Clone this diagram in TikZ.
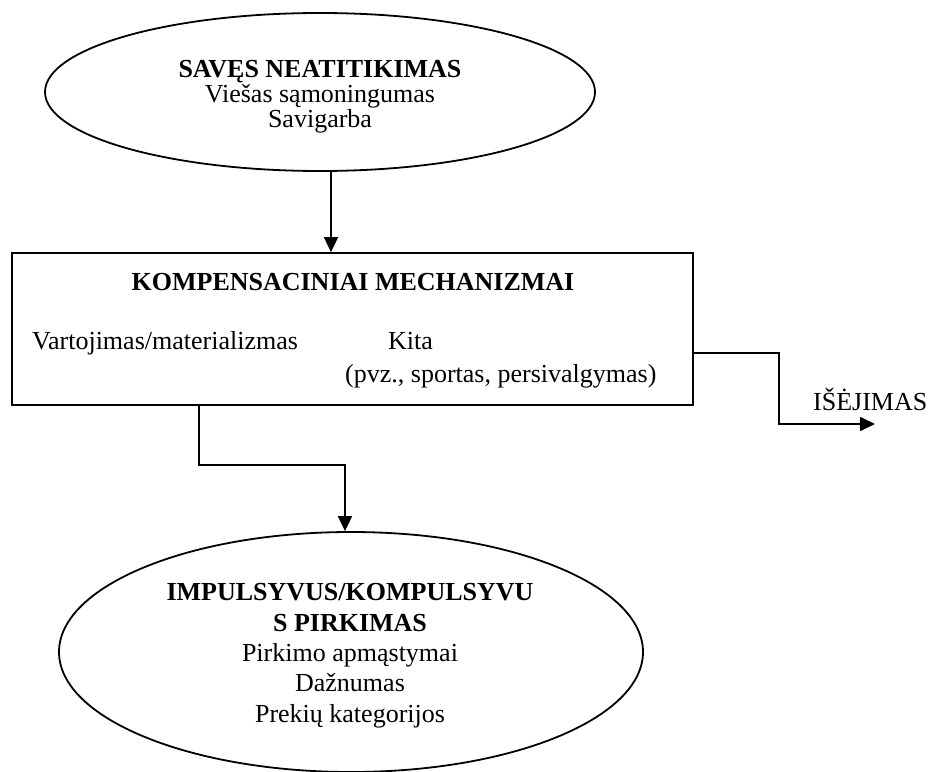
\documentclass[tikz,border=0pt]{standalone}
\usepackage{fontspec}
\setmainfont{Liberation Serif}
\usetikzlibrary{shapes.geometric,arrows.meta}

\tikzset{
  frame/.style={draw=black, line width=1.8pt},
  oval/.style={frame, ellipse, inner sep=0pt},
  txt/.style={inner sep=0pt, anchor=base, font=\fontsize{26}{30}\selectfont},
  txtl/.style={txt, anchor=base west},
  head/.style={txt, font=\fontsize{26}{30}\selectfont\bfseries},
  link/.style={draw=black, line width=1.8pt, -{Triangle[length=15pt,width=14pt]}},
  wire/.style={draw=black, line width=1.8pt}
}

\begin{document}
\begin{tikzpicture}[x=1pt, y=-1pt]
\useasboundingbox (0,0) rectangle (934,771);
\clip (0,0) rectangle (934,771);

% upper ellipse
\node[oval, minimum width=550pt, minimum height=158pt] (self) at (320,92) {};
\node[head] (selfT) at (320,77) {SAVĘS NEATITIKIMAS};
\node[txt]  (selfA) at (320,102) {Viešas sąmoningumas};
\node[txt]  (selfB) at (320,127) {Savigarba};

% middle box
\node[frame, minimum width=681pt, minimum height=152pt, inner sep=0pt] (comp) at (352.5,329) {};
\node[head] (compT) at (353,290) {KOMPENSACINIAI MECHANIZMAI};
\node[txtl] (compA) at (32,349) {Vartojimas/materializmas};
\node[txtl] (compB) at (388,349) {Kita};
\node[txtl] (compC) at (345,382) {(pvz., sportas, persivalgymas)};

% lower ellipse
\node[oval, minimum width=584pt, minimum height=240pt] (buy) at (351,652) {};
\node[head] (buyT1) at (350,600) {IMPULSYVUS/KOMPULSYVU};
\node[head] (buyT2) at (350,631) {S PIRKIMAS};
\node[txt]  (buyA) at (350,661) {Pirkimo apmąstymai};
\node[txt]  (buyB) at (350,691) {Dažnumas};
\node[txt]  (buyC) at (350,722) {Prekių kategorijos};

% exit label and arrow end
\node[txtl] (exitT) at (813,410) {IŠĖJIMAS};
\coordinate (exit) at (875,424);

% connectors
\draw[link] ([xshift=11pt]self.south) -- ([xshift=11pt]self.south |- comp.north);
\draw[link] ([yshift=-24pt]comp.east) -- ++(85,0) |- (exit);
\draw[link] ([xshift=-153.5pt]comp.south) -- ++(0,59) -| ([xshift=-6pt]buy.north);
\end{tikzpicture}
\end{document}
